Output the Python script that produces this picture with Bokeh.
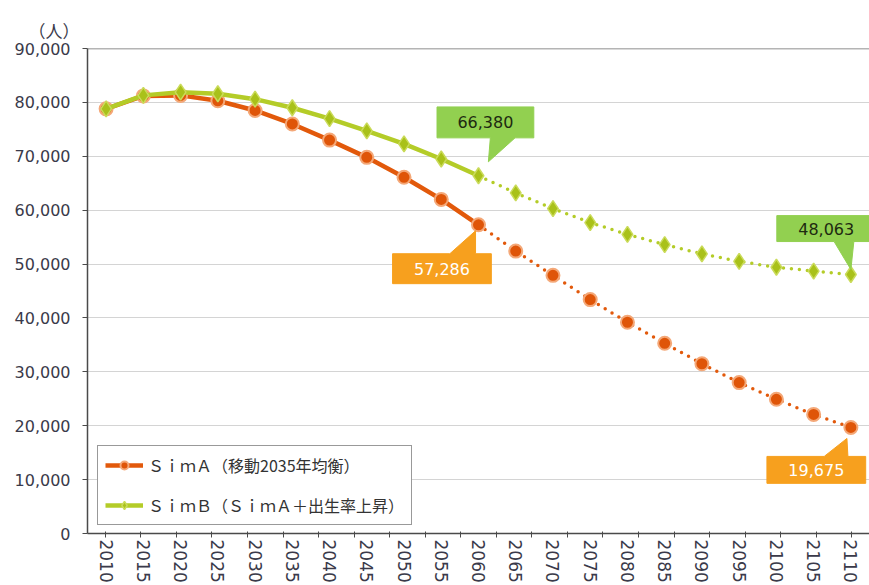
from bokeh.plotting import figure
from bokeh.models import (FactorRange, Range1d, ColumnDataSource, Legend, LegendItem,
                          SingleIntervalTicker, NumeralTickFormatter, Span, CategoricalAxis)
from bokeh.embed import file_html
from bokeh.resources import INLINE
from bokeh.core.properties import value
import math

# ---- data ----
years = ["2010", "2015", "2020", "2025", "2030", "2035", "2040", "2045", "2050", "2055",
         "2060", "2065", "2070", "2075", "2080", "2085", "2090", "2095", "2100", "2105", "2110"]
sim_a = [78800, 81200, 81300, 80300, 78500, 76000, 73000, 69800, 66100, 62000,
         57286, 52400, 47900, 43400, 39200, 35300, 31500, 28000, 24900, 22100, 19675]
sim_b = [78800, 81300, 81900, 81600, 80600, 79000, 77000, 74700, 72300, 69500,
         66380, 63200, 60300, 57700, 55500, 53600, 51900, 50500, 49400, 48700, 48063]
split_year = "2060"
label_a = "ＳｉｍＡ（移動2035年均衡）"
label_b = "ＳｉｍＢ（ＳｉｍＡ＋出生率上昇）"
y_unit = "（人）"
y_max = 90000

ORANGE = "#E2590B"
GREEN = "#B4CC28"
AXIS = "#4A4A4A"
TXT = "#3A3A4A"
NUM_FONT = "DejaVu Sans"
JP_FONT = "Noto Sans CJK JP"

W, H = 869, 585
BL, BR, BT, BB = 87, 0, 48, 51
FW, FH = W - BL - BR, H - BT - BB
X_END = 20.74
XPX = X_END / FW
YPX = y_max / FH

p = figure(width=W, height=H, x_range=FactorRange(factors=years, start=0, end=X_END),
           y_range=Range1d(0, y_max), output_backend="svg", toolbar_location=None,
           x_axis_location=None,
           min_border_left=BL, min_border_right=BR, min_border_top=BT, min_border_bottom=BB)
p.outline_line_color = None
p.background_fill_color = "white"
p.xgrid.grid_line_color = None
p.ygrid.grid_line_color = "#D4D4D4"
p.ygrid.grid_line_width = 1
p.ygrid.ticker = SingleIntervalTicker(interval=10000)
p.add_layout(Span(location=y_max, dimension="width", line_color="#6A6A6A", line_width=1.5))

p.title.text = y_unit
p.title.align = "left"
p.title.offset = -59
p.title.standoff = 11
p.title.text_font = JP_FONT
p.title.text_font_size = "17px"
p.title.text_font_style = "normal"
p.title.text_color = TXT

p.yaxis.ticker = SingleIntervalTicker(interval=10000)
p.yaxis.formatter = NumeralTickFormatter(format="0,0")
p.yaxis.major_label_text_font = NUM_FONT
p.yaxis.major_label_text_font_size = "16px"
p.yaxis.major_label_text_color = TXT
p.yaxis.major_tick_out = 5
p.yaxis.major_tick_in = 0
p.yaxis.minor_tick_line_color = None
p.yaxis.major_label_standoff = 12
p.yaxis.axis_line_color = AXIS
p.yaxis.axis_line_width = 1.5
p.yaxis.major_tick_line_color = AXIS

# tick marks between categories: a second factor range shifted by half a category
bounds = [f"b{i}" for i in range(len(years) + 1)]
p.extra_x_ranges = {"bounds": FactorRange(factors=bounds, start=0.5, end=X_END + 0.5)}
tick_axis = CategoricalAxis(x_range_name="bounds", major_tick_out=4, major_tick_in=2,
                            major_label_text_font_size="0px", major_label_text_color=None,
                            major_label_standoff=0, axis_line_color=AXIS, axis_line_width=1.5,
                            major_tick_line_color=AXIS)
p.add_layout(tick_axis, "below")
cat_axis = CategoricalAxis(major_label_orientation=-math.pi / 2, major_label_text_font=NUM_FONT,
                           major_label_text_font_size="17px", major_label_text_color=TXT,
                           major_tick_line_color=None, major_tick_out=0, major_tick_in=0,
                           major_label_standoff=2, axis_line_color=None)
p.add_layout(cat_axis, "below")

k = years.index(split_year)
src_a_solid = ColumnDataSource(dict(x=years[:k + 1], y=sim_a[:k + 1]))
src_a_dot = ColumnDataSource(dict(x=years[k:], y=sim_a[k:]))
src_b_solid = ColumnDataSource(dict(x=years[:k + 1], y=sim_b[:k + 1]))
src_b_dot = ColumnDataSource(dict(x=years[k:], y=sim_b[k:]))
src_a = ColumnDataSource(dict(x=years, y=sim_a))
src_b = ColumnDataSource(dict(x=years, y=sim_b))

la = p.line("x", "y", source=src_a_solid, line_color=ORANGE, line_width=4.5)
p.line("x", "y", source=src_a_dot, line_color=ORANGE, line_width=3.5, line_dash="0 8", line_cap="round")
ma = p.scatter("x", "y", source=src_a, marker="circle", size=13, fill_color="#DF5508",
               line_color="#F4A878", line_width=2)
lb = p.line("x", "y", source=src_b_solid, line_color=GREEN, line_width=4.5)
p.line("x", "y", source=src_b_dot, line_color=GREEN, line_width=3.5, line_dash="0 8", line_cap="round")
mb = p.scatter("x", "y", source=src_b, marker="diamond", size=16, fill_color="#A9C11A",
               line_color="#CADB5A", line_width=1.5)


def callout(idx, series, box, base, tip, color, txt_color, below):
    xc = idx + 0.5
    yv = series[idx]
    l, r, t, b = box

    def pt(dx, dy):
        return xc + dx * XPX, yv - dy * YPX

    if below:
        pts = [pt(l, t), pt(base[0], t), pt(*tip), pt(base[1], t), pt(r, t), pt(r, b), pt(l, b)]
    else:
        pts = [pt(l, t), pt(r, t), pt(r, b), pt(base[1], b), pt(*tip), pt(base[0], b), pt(l, b)]
    p.patch([q[0] for q in pts], [q[1] for q in pts], fill_color=color, line_color=color)
    cx, cy = pt((l + r) / 2, (t + b) / 2)
    p.text(x=[cx], y=[cy], text=[f"{yv:,}"], text_align="center", text_baseline="middle",
           text_font=value(NUM_FONT), text_font_size="16px", text_color=txt_color)


last = len(years) - 1
callout(k, sim_b, (-42, 56, -69, -38), (12, 37), (10, -14), "#92D050", "#1E2A10", False)
callout(k, sim_a, (-87, 13, 29, 59), (-29, -3), (-3, 6), "#F7A01E", "white", True)
callout(last, sim_b, (-75, 25, -59, -33), (-17, 3), (0, -5), "#92D050", "#1E2A10", False)
callout(last, sim_a, (-85, 15, 29, 56), (-27, -3), (-4, 11), "#F7A01E", "white", True)

legend = Legend(items=[LegendItem(label=label_a, renderers=[la, ma]),
                       LegendItem(label=label_b, renderers=[lb, mb])],
                location=(10, 8), margin=0, padding=7, spacing=16,
                glyph_width=38, glyph_height=20, label_height=20, label_width=216,
                label_standoff=5, label_text_font=JP_FONT, label_text_font_size="16px",
                label_text_color="#333333", border_line_color="#333333", border_line_width=1.2,
                background_fill_color="white", background_fill_alpha=1)
p.add_layout(legend, "center")

open("out.html", "w").write(file_html(p, INLINE))
